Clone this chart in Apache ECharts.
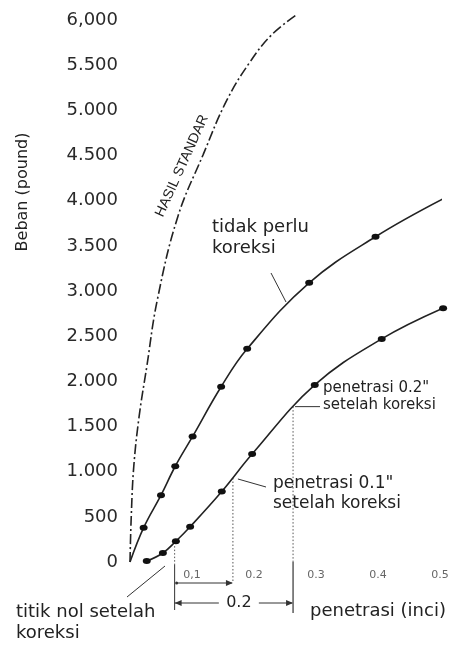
<!DOCTYPE html>
<html>
<head>
<meta charset="UTF-8">
<title>Beban vs penetrasi</title>
<script type="text/javascript" src="https://cdn.jsdelivr.net/npm/echarts@6/dist/echarts.min.js"></script>
<style>
html, body { margin: 0; padding: 0; background: #fff; }
#main { width: 456px; height: 648px; }
</style>
</head>
<body>
<div id="main"></div>
<script type="text/javascript">
// tick labels as printed on the figure
var yTicks = ['0', '500', '1.000', '1.500', '2.000', '2.500', '3.000', '3.500', '4.000', '4.500', '5.000', '5.500', '6,000'];
var xTicks = ['', '0,1', '0.2', '0.3', '0.4', '0.5'];

// hasil standar (dash-dot)
var penStd = [0, 0.002, 0.006, 0.0145, 0.027, 0.044, 0.077, 0.118, 0.156, 0.194, 0.229, 0.269];
var loadStd = [0, 500, 1050, 1600, 2160, 2900, 3820, 4510, 5110, 5540, 5840, 6060];

// tidak perlu koreksi (upper curve)
var penUpper = [0, 0.022, 0.05, 0.073, 0.101, 0.147, 0.189, 0.289, 0.396, 0.505];
var loadUpper = [0, 380, 740, 1060, 1390, 1940, 2360, 3090, 3600, 4020];

// curve that needs correction (lower curve)
var penLower = [0.027, 0.053, 0.074, 0.097, 0.148, 0.197, 0.298, 0.406, 0.505];
var loadLower = [10, 100, 230, 390, 780, 1195, 1960, 2470, 2810];

// corrected zero, corrected 0.1" and 0.2" (penetration, load on lower curve)
var corrPen = [0.072, 0.166, 0.263];
var corrLoad = [220, 930, 1720];

var FONT = 'DejaVu Sans';

function pairs(xs, ys, bare) {
    var res = [];
    for (var i = 0; i < xs.length; i++) {
        var item = { value: [xs[i], ys[i]] };
        if (bare && bare.indexOf(i) >= 0) item.symbol = 'none';
        res.push(item);
    }
    return res;
}

var myChart = echarts.init(document.getElementById('main'));

var option = {
    animation: false,
    backgroundColor: '#fff',
    grid: { left: 130, top: 20, width: 310, height: 542 },
    xAxis: {
        type: 'value', min: 0, max: 0.5, interval: 0.1,
        axisLine: { show: false }, axisTick: { show: false }, splitLine: { show: false },
        axisLabel: {
            margin: 8, fontSize: 11, fontFamily: FONT, color: '#666',
            formatter: function (v) { return xTicks[Math.round(v * 10)]; }
        }
    },
    yAxis: {
        type: 'value', min: 0, max: 6000, interval: 500,
        axisLine: { show: false }, axisTick: { show: false }, splitLine: { show: false },
        axisLabel: {
            margin: 12, fontSize: 18, fontFamily: FONT, color: '#2a2a2a',
            formatter: function (v) { return yTicks[Math.round(v / 500)]; }
        }
    },
    series: [
        {
            name: 'hasil standar', type: 'line', smooth: 0.4, clip: false,
            symbol: 'none',
            lineStyle: { color: '#222', width: 1.6, type: [10, 3, 2, 3] },
            data: pairs(penStd, loadStd)
        },
        {
            name: 'tidak perlu koreksi', type: 'line', smooth: 0.4, clip: false,
            symbol: 'circle', symbolSize: [8, 6],
            itemStyle: { color: '#111' },
            lineStyle: { color: '#222', width: 1.6 },
            data: pairs(penUpper, loadUpper, [0, penUpper.length - 1])
        },
        {
            name: 'perlu koreksi', type: 'line', smooth: 0.4, clip: false,
            symbol: 'circle', symbolSize: [8, 6],
            itemStyle: { color: '#111' },
            lineStyle: { color: '#222', width: 1.6 },
            data: pairs(penLower, loadLower)
        }
    ]
};
myChart.setOption(option);

function px(x, y) { return myChart.convertToPixel({ gridIndex: 0 }, [x, y]); }

function seg(x1, y1, x2, y2, dotted, w) {
    return {
        type: 'line', silent: true,
        shape: { x1: x1, y1: y1, x2: x2, y2: y2 },
        style: { stroke: dotted ? '#555' : '#333', lineWidth: w || 1, lineDash: dotted ? [1.5, 2] : null }
    };
}
function head(x, y, dir) {
    // small arrowhead pointing left (dir=-1) or right (dir=1)
    return {
        type: 'polygon', silent: true,
        shape: { points: [[x, y], [x - dir * 7, y - 3], [x - dir * 7, y + 3]] },
        style: { fill: '#333' }
    };
}
function txt(x, y, s, size) {
    return {
        type: 'text', silent: true, x: x, y: y,
        style: { text: s, fontSize: size, fontFamily: FONT, fill: '#222', lineHeight: Math.round(size * 1.15), verticalAlign: 'top' }
    };
}

var p0 = px(corrPen[0], corrLoad[0]);
var p1 = px(corrPen[1], corrLoad[1]);
var p2 = px(corrPen[2], corrLoad[2]);
var base = px(0, 0)[1];
var yArr1 = base + 21, yArr2 = base + 41;

var g = [];
// dotted verticals from the corrected points down to the axis
g.push(seg(p0[0], p0[1] + 4, p0[0], base + 3, true));
g.push(seg(p0[0], base + 3, p0[0], base + 48, false));
g.push(seg(p1[0], p1[1], p1[0], yArr1, true));
g.push(seg(p2[0], p2[1], p2[0], base, true));
g.push(seg(p2[0], base, p2[0], base + 51, false, 1.2));

// 0,1 arrow
g.push(seg(p0[0] + 2, yArr1, p1[0] - 1, yArr1, false));
g.push(head(p1[0], yArr1, 1));
g.push({ type: 'circle', silent: true, shape: { cx: p0[0] + 2, cy: yArr1, r: 1.5 }, style: { fill: '#333' } });

// 0.2 double arrow
var mid = (p0[0] + p2[0]) / 2 + 5;
g.push(seg(p0[0], yArr2, mid - 20, yArr2, false));
g.push(head(p0[0], yArr2, -1));
g.push(seg(mid + 20, yArr2, p2[0] - 1, yArr2, false));
g.push(head(p2[0], yArr2, 1));
g.push({
    type: 'text', silent: true, x: mid, y: yArr2,
    style: { text: '0.2', fontSize: 16, fontFamily: FONT, fill: '#222', align: 'center', verticalAlign: 'middle' }
});

// leader lines
g.push(seg(271, 273, 286, 302, false));
g.push(seg(p2[0] + 2, p2[1], 320, p2[1], false));
g.push(seg(p1[0] + 5, p1[1] + 1, 266, 487, false));
g.push(seg(127, 597, 165, 566, false));

// annotation texts
g.push(txt(212, 217, 'tidak perlu\nkoreksi', 18));
g.push(txt(323, 380, 'penetrasi 0.2"\nsetelah koreksi', 15));
g.push(txt(273, 474, 'penetrasi 0.1"\nsetelah koreksi', 17));
g.push(txt(16, 602, 'titik nol setelah\nkoreksi', 18));
g.push(txt(310, 601, 'penetrasi (inci)', 18));
g.push({
    type: 'text', silent: true, x: 23, y: 192, rotation: Math.PI / 2,
    style: { text: 'Beban (pound)', fontSize: 16, fontFamily: FONT, fill: '#222', align: 'center', verticalAlign: 'middle' }
});
g.push({
    type: 'text', silent: true, x: 182, y: 166, rotation: 65.6 * Math.PI / 180,
    style: { text: 'HASIL STANDAR', fontSize: 14, fontFamily: 'Liberation Sans', fill: '#222', align: 'center', verticalAlign: 'middle' }
});

myChart.setOption({ graphic: g });
</script>
</body>
</html>
